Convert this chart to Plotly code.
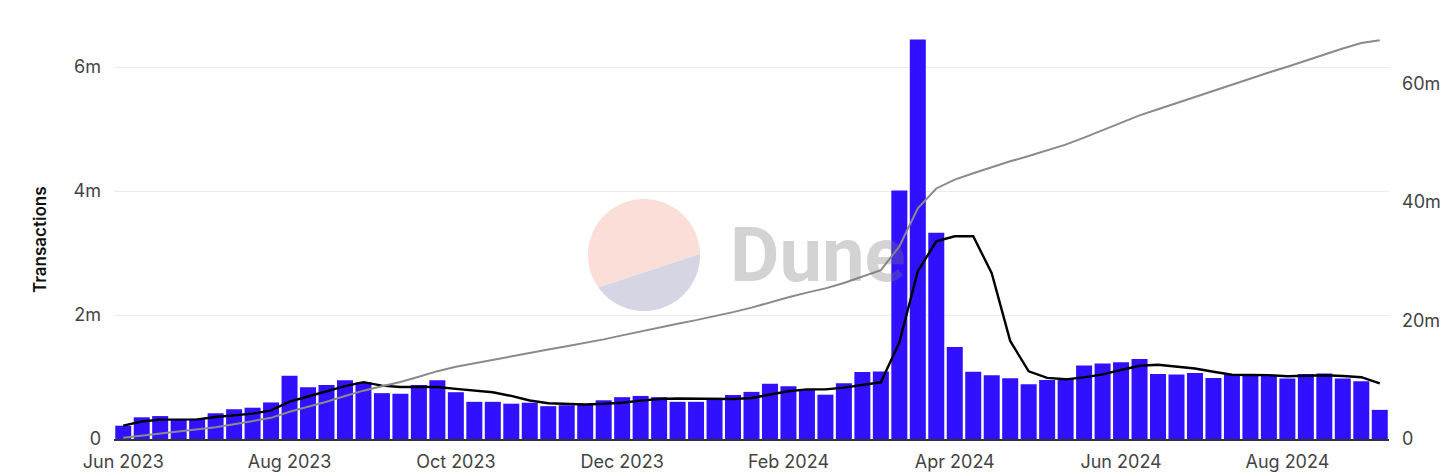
import numpy as np
import pandas as pd
import plotly.graph_objects as go

# ---------------- data (millions of transactions, weekly) ----------------
weeks = pd.date_range("2023-06-05", periods=69, freq="7D").strftime("%Y-%m-%d").tolist()

transactions_m = [
    0.215, 0.35, 0.37, 0.32, 0.325, 0.415, 0.48, 0.505, 0.59, 1.02,
    0.835, 0.87, 0.95, 0.91, 0.74, 0.73, 0.87, 0.95, 0.755, 0.60,
    0.60, 0.57, 0.585, 0.53, 0.545, 0.555, 0.625, 0.675, 0.695, 0.675,
    0.60, 0.60, 0.64, 0.71, 0.76, 0.89, 0.85, 0.79, 0.715, 0.90,
    1.08, 1.09, 4.01, 6.445, 3.33, 1.486, 1.087, 1.03, 0.98, 0.884,
    0.953, 0.97, 1.185, 1.22, 1.24, 1.29, 1.05, 1.04, 1.066, 0.985,
    1.04, 1.03, 1.03, 0.975, 1.05, 1.055, 0.975, 0.93, 0.47,
]

moving_avg_m = [
    0.215, 0.283, 0.312, 0.314, 0.316, 0.356, 0.382, 0.409, 0.463, 0.602,
    0.686, 0.764, 0.853, 0.917, 0.861, 0.840, 0.840, 0.840, 0.809, 0.781,
    0.755, 0.695, 0.622, 0.577, 0.566, 0.557, 0.568, 0.586, 0.619, 0.645,
    0.654, 0.649, 0.642, 0.645, 0.662, 0.720, 0.770, 0.800, 0.801, 0.829,
    0.867, 0.915, 1.559, 2.705, 3.191, 3.272, 3.272, 2.676, 1.583, 1.093,
    0.987, 0.963, 0.994, 1.042, 1.114, 1.181, 1.197, 1.168, 1.137, 1.086,
    1.036, 1.032, 1.030, 1.012, 1.025, 1.028, 1.017, 0.997, 0.896,
]

cumulative_m = [
    0.215, 0.565, 0.935, 1.255, 1.58, 1.995, 2.475, 2.98, 3.57, 4.59,
    5.425, 6.295, 7.245, 8.155, 8.895, 9.625, 10.495, 11.445, 12.2, 12.8,
    13.4, 13.97, 14.555, 15.085, 15.63, 16.185, 16.81, 17.485, 18.18, 18.855,
    19.455, 20.055, 20.695, 21.405, 22.165, 23.055, 23.905, 24.695, 25.41, 26.31,
    27.39, 28.48, 32.49, 38.935, 42.265, 43.751, 44.838, 45.868, 46.848, 47.732,
    48.685, 49.655, 50.84, 52.06, 53.3, 54.59, 55.64, 56.68, 57.746, 58.731,
    59.771, 60.801, 61.831, 62.806, 63.856, 64.911, 65.886, 66.816, 67.286,
]

left_tick_vals = [0, 2e6, 4e6, 6e6]
left_tick_text = ["0", "2m", "4m", "6m"]
right_tick_vals = [0, 20e6, 40e6, 60e6]
right_tick_text = ["0", "20m", "40m", "60m"]
x_tick_vals = weeks[::9]
x_tick_text = [pd.Timestamp(d).strftime("%b %Y") for d in x_tick_vals]

# ---------------- figure ----------------
W, H = 1456, 476
ML, MR, MT, MB = 114, 67, 30, 37
PW, PH = W - ML - MR, H - MT - MB

FONT = "Inter"
TICK_COLOR = "#444444"

fig = go.Figure()
fig.add_trace(go.Bar(
    x=weeks, y=[v * 1e6 for v in transactions_m],
    marker=dict(color="#3010ff", line=dict(width=0)),
    name="Transactions", yaxis="y",
))
fig.add_trace(go.Scatter(
    x=weeks, y=[v * 1e6 for v in moving_avg_m],
    mode="lines", line=dict(color="#000000", width=2.4),
    name="Moving average", yaxis="y",
))
fig.add_trace(go.Scatter(
    x=weeks, y=[v * 1e6 for v in cumulative_m],
    mode="lines", line=dict(color="#8a8a8a", width=2),
    name="Cumulative", yaxis="y2",
))

# watermark: Dune logo circle split by a slanted chord
cx_px, cy_px, r_px = 644, 255, 56
cx = (cx_px - ML) / PW
cy = (MT + PH - cy_px) / PH
rx, ry = r_px / PW, r_px / PH


def arc_path(a0, a1, n=80):
    th = np.radians(np.linspace(a0, a1, n))
    pts = [(cx + rx * np.cos(t), cy + ry * np.sin(t)) for t in th]
    return "M " + " L ".join(f"{x:.5f},{y:.5f}" for x, y in pts) + " Z"


fig.add_shape(type="path", path=arc_path(1, 215.5), xref="paper", yref="paper",
              fillcolor="#fbded7", line=dict(width=0), layer="below")
fig.add_shape(type="path", path=arc_path(215.5, 361), xref="paper", yref="paper",
              fillcolor="#d5d5e3", line=dict(width=0), layer="below")

fig.add_annotation(
    text="<b>Dune</b>", xref="paper", yref="paper",
    x=(728 - ML) / PW, y=(MT + PH - 255) / PH, xanchor="left", yanchor="middle",
    showarrow=False, font=dict(family="Roboto", size=76, color="rgba(120,120,120,0.33)"),
)

fig.add_annotation(
    text="Transactions", xref="paper", yref="paper",
    x=(40 - ML) / PW, y=(MT + PH - 240) / PH, xanchor="center", yanchor="middle",
    textangle=-90, showarrow=False,
    font=dict(family=FONT, size=17, color="#111111", weight=600),
)

fig.update_layout(
    width=W, height=H,
    margin=dict(l=ML, r=MR, t=MT, b=MB, pad=0, autoexpand=False),
    paper_bgcolor="white", plot_bgcolor="white",
    showlegend=False, bargap=0.134, hovermode=False,
    font=dict(family=FONT, size=18, color=TICK_COLOR),
    xaxis=dict(
        type="category", range=[-0.5, len(weeks) - 0.5], automargin=False,
        tickvals=x_tick_vals, ticktext=x_tick_text,
        showgrid=False, showline=True, linecolor="#333333", linewidth=1.5,
        ticks="", ticklabelstandoff=6, zeroline=False,
        tickfont=dict(family=FONT, size=18, color=TICK_COLOR),
    ),
    yaxis=dict(
        range=[0, 6.6e6], tickvals=left_tick_vals, ticktext=left_tick_text,
        automargin=False,
        showgrid=True, gridcolor="#ececec", gridwidth=1.2, zeroline=False,
        showline=False, ticks="", ticklabelstandoff=12,
        tickfont=dict(family=FONT, size=18, color=TICK_COLOR),
    ),
    yaxis2=dict(
        range=[0, 69e6], tickvals=right_tick_vals, ticktext=right_tick_text,
        automargin=False,
        overlaying="y", side="right", showgrid=False, zeroline=False,
        showline=False, ticks="", ticklabelstandoff=12,
        tickfont=dict(family=FONT, size=18, color=TICK_COLOR),
    ),
)

fig.write_html(
    "out.html",
    config=dict(displayModeBar=False, staticPlot=False),
    post_script="document.body.style.margin='0px';document.body.style.overflow='hidden';",
)
